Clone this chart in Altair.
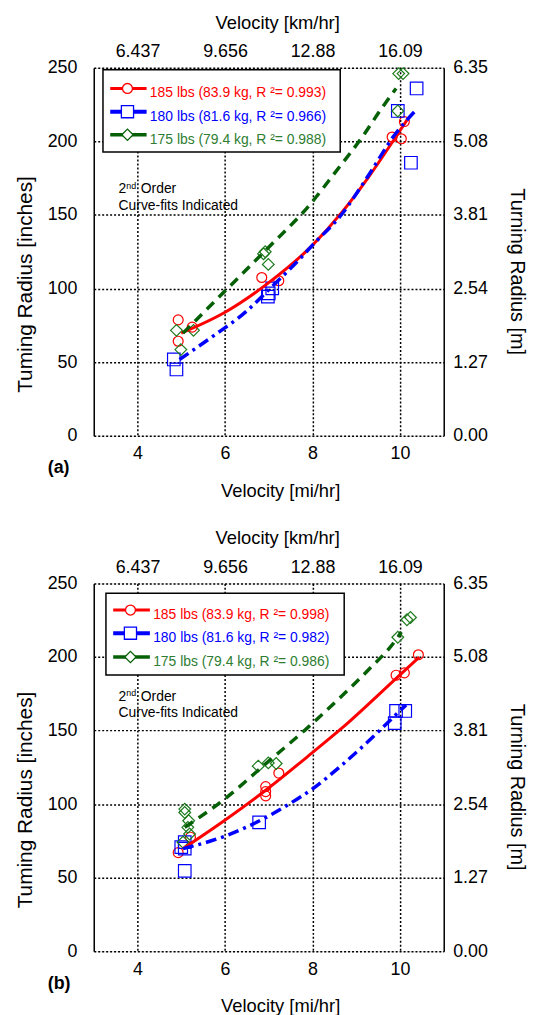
import altair as alt
import pandas as pd

FONT = "Liberation Sans"
RED = "#ff0000"
BLUE = "#0000ff"
GREEN_LINE = "#066006"
GREEN_PT = "#1a7a1a"
GREEN_TXT = "#2e7d32"

# ---------------- axis ticks / labels ----------------
mph_ticks = [4, 6, 8, 10]
kmh_labels = ["6.437", "9.656", "12.88", "16.09"]
in_ticks = [0, 50, 100, 150, 200, 250]
m_labels = ["0.00", "1.27", "2.54", "3.81", "5.08", "6.35"]

# ---------------- panel (a) data ----------------
a_185_x = [4.93, 4.93, 5.25, 6.84, 7.23, 9.82, 10.03, 10.10]
a_185_y = [78.7, 64.2, 73.8, 107.5, 105.3, 203.0, 201.8, 213.5]
a_180_x = [4.83, 4.89, 6.98, 7.00, 7.08, 9.95, 10.25, 10.38]
a_180_y = [51.8, 45.0, 94.5, 96.7, 100.1, 220.7, 185.5, 236.0]
a_175_x = [4.89, 4.99, 5.28, 6.88, 6.92, 6.99, 9.95, 9.97, 10.07]
a_175_y = [71.6, 58.5, 71.6, 123.6, 125.0, 116.4, 220.7, 246.1, 246.1]

fit_a_185_x = [5.00, 5.98, 7.00, 7.99, 8.67, 9.27, 9.88, 10.16]
fit_a_185_y = [69.7, 83.5, 104.0, 129.2, 151.8, 175.3, 202.0, 214.6]
fit_a_180_x = [4.96, 5.72, 6.48, 7.00, 7.68, 7.99, 8.67, 9.27, 9.88, 10.37]
fit_a_180_y = [51.8, 67.5, 84.3, 99.2, 119.2, 129.2, 150.5, 176.5, 204.5, 221.4]
fit_a_175_x = [5.04, 6.02, 7.00, 7.91, 8.52, 9.12, 9.57, 9.91]
fit_a_175_y = [69.7, 98.9, 128.1, 156.0, 179.0, 202.3, 222.0, 236.0]

a_labels = ["185 lbs (83.9 kg, R \u00b2= 0.993)",
            "180 lbs (81.6 kg, R \u00b2= 0.966)",
            "175 lbs (79.4 kg, R \u00b2= 0.988)"]

# ---------------- panel (b) data ----------------
b_185_x = [4.93, 5.21, 6.93, 6.93, 6.93, 7.23, 9.91, 10.10, 10.42]
b_185_y = [67.0, 77.5, 111.9, 108.5, 105.6, 121.1, 187.6, 189.2, 201.5]
b_180_x = [5.00, 5.08, 5.08, 5.08, 6.78, 9.88, 9.91, 10.12]
b_180_y = [70.8, 69.7, 74.1, 54.6, 87.6, 155.0, 163.3, 163.3]
b_175_x = [5.04, 5.08, 5.08, 5.15, 5.17, 5.19, 6.76, 6.99, 7.17, 9.95, 10.16, 10.24]
b_175_y = [74.1, 96.6, 94.3, 84.2, 88.7, 79.7, 125.8, 128.0, 127.6, 213.4, 225.3, 226.8]

fit_b_185_x = [5.04, 5.98, 6.93, 7.99, 8.67, 9.95, 10.44]
fit_b_185_y = [69.7, 88.7, 109.4, 134.8, 151.6, 186.5, 199.9]
fit_b_180_x = [5.04, 5.98, 6.93, 7.68, 7.99, 8.67, 9.27, 9.95, 10.14]
fit_b_180_y = [69.7, 78.0, 90.8, 104.0, 110.1, 126.5, 142.5, 162.0, 167.4]
fit_b_175_x = [5.08, 5.95, 7.00, 7.91, 8.67, 9.27, 9.95, 10.03]
fit_b_175_y = [84.2, 102.5, 129.2, 152.5, 173.5, 191.0, 213.4, 217.0]

b_labels = ["185 lbs (83.9 kg, R \u00b2= 0.998)",
            "180 lbs (81.6 kg, R \u00b2= 0.982)",
            "175 lbs (79.4 kg, R \u00b2= 0.986)"]

# ---------------- layout ----------------
W, H = 353, 371
XS = alt.Scale(domain=[3, 11], nice=False, zero=False)
YS = alt.Scale(domain=[0, 250], nice=False, zero=False)


def expr_map(vals, labels):
    e = "''"
    for v, l in zip(reversed(vals), reversed(labels)):
        e = f"datum.value == {v} ? '{l}' : {e}"
    return e


common = dict(labelFont=FONT, labelFontSize=18, labelColor="black",
              titleFont=FONT, titleFontWeight="normal", titleColor="black",
              ticks=False)
GRID = dict(grid=True, gridColor="black", gridDash=[2, 2], gridWidth=1.5)

ax_bottom = alt.Axis(orient="bottom", values=mph_ticks, title="Velocity [mi/hr]",
                     titleFontSize=18.5, domain=False, labelPadding=9,
                     titlePadding=19, titleX=188, **GRID, **common)
ax_top = alt.Axis(orient="top", values=mph_ticks, labelExpr=expr_map(mph_ticks, kmh_labels),
                  title="Velocity [km/hr]", titleFontSize=18.5, domain=False, grid=False,
                  labelPadding=7, titlePadding=11, titleX=185, **common)
ax_left = alt.Axis(orient="left", values=in_ticks, title="Tuming Radius [inches]",
                   titleFontSize=21, domain=True, domainColor="black", domainWidth=1.5,
                   labelPadding=17, titlePadding=12, titleY=218, **GRID, **common)
ax_right = alt.Axis(orient="right", values=in_ticks, labelExpr=expr_map(in_ticks, m_labels),
                    title="Turning Radius [m]", titleFontSize=20, domain=True,
                    domainColor="black", domainWidth=1.5, grid=False,
                    labelPadding=9, titlePadding=19, titleY=205, **common)


def pts(xs, ys, shape, color, size, xaxis=None, yaxis=None):
    df = pd.DataFrame({"mph": xs, "r": ys})
    return alt.Chart(df).mark_point(shape=shape, color=color, filled=False, size=size,
                                    strokeWidth=1.2, opacity=1).encode(
        x=alt.X("mph:Q", scale=XS, axis=xaxis),
        y=alt.Y("r:Q", scale=YS, axis=yaxis))


def fit(xs, ys, color, width, dash=None):
    df = pd.DataFrame({"mph": xs, "r": ys})
    kw = dict(color=color, strokeWidth=width, interpolate="monotone")
    if dash:
        kw["strokeDash"] = dash
    return alt.Chart(df).mark_line(**kw).encode(
        x=alt.X("mph:Q", scale=XS, axis=None),
        y=alt.Y("r:Q", scale=YS, axis=None))


one = pd.DataFrame({"k": [0]})


def txt(x, y, s, size=14, color="black", weight="normal", align="left"):
    return alt.Chart(one).mark_text(text=s, font=FONT, fontSize=size, color=color,
                                    fontWeight=weight, align=align, baseline="middle").encode(
        x=alt.value(x), y=alt.value(y))


def panel(series, fits, labels, box, rows, line_x, mark_x, text_x, note_y, tag):
    (x1, y1), (x2, y2), (x3, y3) = series
    layers = [
        pts(x1, y1, "circle", RED, 100, ax_bottom, ax_left),
        pts(x2, y2, "square", BLUE, 160, ax_top, ax_right),
        pts(x3, y3, "diamond", GREEN_PT, 140),
        fit(*fits[0], RED, 3),
        fit(*fits[1], BLUE, 3.5, [11, 5, 3, 5]),
        fit(*fits[2], GREEN_LINE, 3.5, [10, 7]),
        alt.Chart(one).mark_rect(fill="white", stroke="black", strokeWidth=1.5).encode(
            x=alt.value(box[0]), x2=alt.value(box[1]), y=alt.value(box[2]), y2=alt.value(box[3])),
    ]
    styles = [(RED, RED, "circle", 100, 3), (BLUE, BLUE, "square", 150, 4),
              (GREEN_LINE, GREEN_TXT, "diamond", 130, 3.5)]
    for (lc, tc, shp, sz, lw), ry, lab in zip(styles, rows, labels):
        layers.append(alt.Chart(one).mark_rule(color=lc, strokeWidth=lw).encode(
            x=alt.value(line_x[0]), x2=alt.value(line_x[1]), y=alt.value(ry)))
        layers.append(alt.Chart(one).mark_point(shape=shp, stroke=lc, fill="white", filled=True,
                                                size=sz, strokeWidth=1.3, opacity=1,
                                                fillOpacity=1, strokeOpacity=1).encode(
            x=alt.value(mark_x), y=alt.value(ry)))
        layers.append(txt(text_x, ry + 5, lab, size=14, color=tc))
    nx = 25
    layers += [
        txt(nx, note_y, "2"),
        txt(nx + 7.8, note_y - 3.5, "nd", size=9),
        txt(nx + 22.4, note_y, "Order"),
        txt(nx, note_y + 16.7, "Curve-fits Indicated"),
        txt(-46.4, 404, tag, size=18, weight="bold"),
    ]
    return alt.layer(*layers).properties(width=W, height=H).resolve_axis(
        x="independent", y="independent")


pa = panel([(a_185_x, a_185_y), (a_180_x, a_180_y), (a_175_x, a_175_y)],
           [(fit_a_185_x, fit_a_185_y), (fit_a_180_x, fit_a_180_y), (fit_a_175_x, fit_a_175_y)],
           a_labels, (9.3, 248.6, 1.8, 84.8), [20.8, 44.2, 67.5], (16.6, 53.3), 34, 56.6,
           122.5, "(a)")
pb = panel([(b_185_x, b_185_y), (b_180_x, b_180_y), (b_175_x, b_175_y)],
           [(fit_b_185_x, fit_b_185_y), (fit_b_180_x, fit_b_180_y), (fit_b_175_x, fit_b_175_y)],
           b_labels, (12.3, 252.6, 9.9, 92.5), [26.9, 50.2, 74.2], (19.6, 56.6), 37, 59.9,
           114.2, "(b)")

chart = alt.vconcat(pa, pb, spacing=28).properties(
    padding={"left": 5.5, "top": 0, "right": 2, "bottom": 0}
).configure_view(stroke=None).configure(font=FONT)

chart.save("out.html", embed_options={"renderer": "svg", "actions": False})
